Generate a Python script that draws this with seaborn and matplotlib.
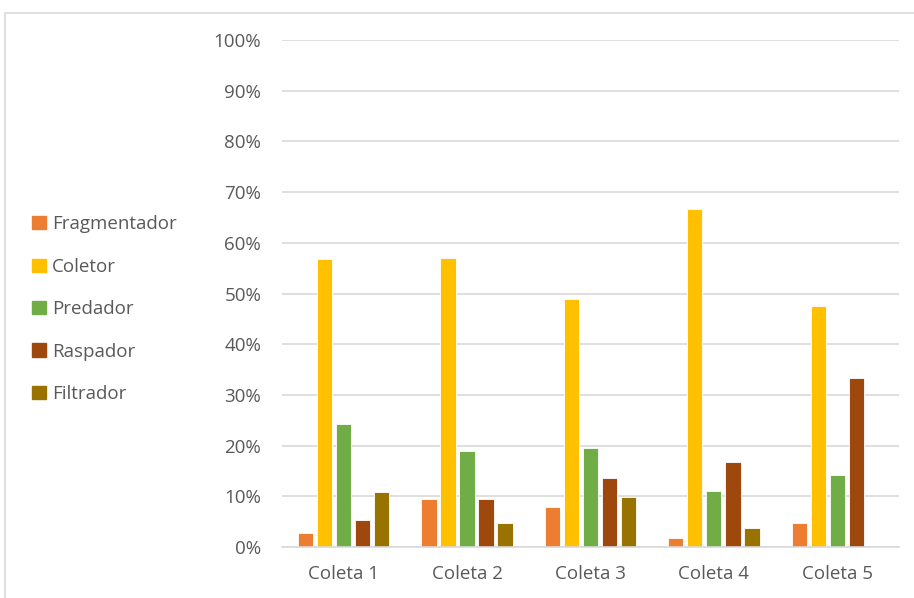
import pandas as pd
import seaborn as sns
import matplotlib.pyplot as plt
from matplotlib.patches import Rectangle
from matplotlib.ticker import PercentFormatter

# values (percent of individuals per feeding group)
coletas = ['Coleta 1', 'Coleta 2', 'Coleta 3', 'Coleta 4', 'Coleta 5']
grupos = ['Fragmentador', 'Coletor', 'Predador', 'Raspador', 'Filtrador']
fragmentador = [2.7, 9.5, 7.8, 1.7, 4.8]
coletor = [56.8, 57.1, 49.0, 66.7, 47.6]
predador = [24.3, 19.0, 19.6, 11.1, 14.3]
raspador = [5.4, 9.5, 13.7, 16.7, 33.3]
filtrador = [10.8, 4.8, 9.8, 3.7, 0.0]
cores = ['#ED7D31', '#FFC000', '#70AD47', '#9E480E', '#997300']

valores = [fragmentador, coletor, predador, raspador, filtrador]
rows = []
for g, serie in zip(grupos, valores):
    for c, v in zip(coletas, serie):
        rows.append({'coleta': c, 'grupo': g, 'pct': v})
data = pd.DataFrame(rows)

sns.set_style('white')
plt.rcParams['font.family'] = ['Open Sans', 'DejaVu Sans']

fig = plt.figure(figsize=(9.14, 5.98), dpi=100)
ax = fig.add_axes([0.3085, 0.0853, 0.6751, 0.8477])

sns.barplot(data=data, x='coleta', y='pct', hue='grupo', hue_order=grupos,
            palette=cores, saturation=1, width=0.77, gap=0.2,
            edgecolor='white', linewidth=0.6, ax=ax, legend=False)

ax.set_ylim(0, 100)
ax.set_yticks(range(0, 101, 10))
ax.yaxis.set_major_formatter(PercentFormatter(decimals=0))
ax.grid(axis='y', color='#d9d9d9', linewidth=1.2)
ax.set_axisbelow(True)
for s in ['top', 'right', 'left']:
    ax.spines[s].set_visible(False)
ax.spines['bottom'].set_color('#d9d9d9')
ax.spines['bottom'].set_linewidth(1.2)
ax.tick_params(axis='both', length=0, labelsize=13.5, labelcolor='#595959')
ax.tick_params(axis='y', pad=15)
ax.tick_params(axis='x', pad=13)
ax.set_xlabel('')
ax.set_ylabel('')

handles = [Rectangle((0, 0), 1, 1, color=c) for c in cores]
fig.legend(handles, grupos, loc='upper left', bbox_to_anchor=(0.017, 0.668),
           frameon=False, fontsize=13.5, labelcolor='#595959',
           handlelength=0.7, handleheight=0.7, handletextpad=0.35,
           labelspacing=1.3)

# outer chart frame
fig.patches.append(Rectangle((5 / 914, -0.01), 1.0, 1 - 13 / 598 + 0.01,
                             transform=fig.transFigure, fill=False,
                             edgecolor='#d9d9d9', linewidth=1.2))

plt.savefig('out.png', dpi=100)
